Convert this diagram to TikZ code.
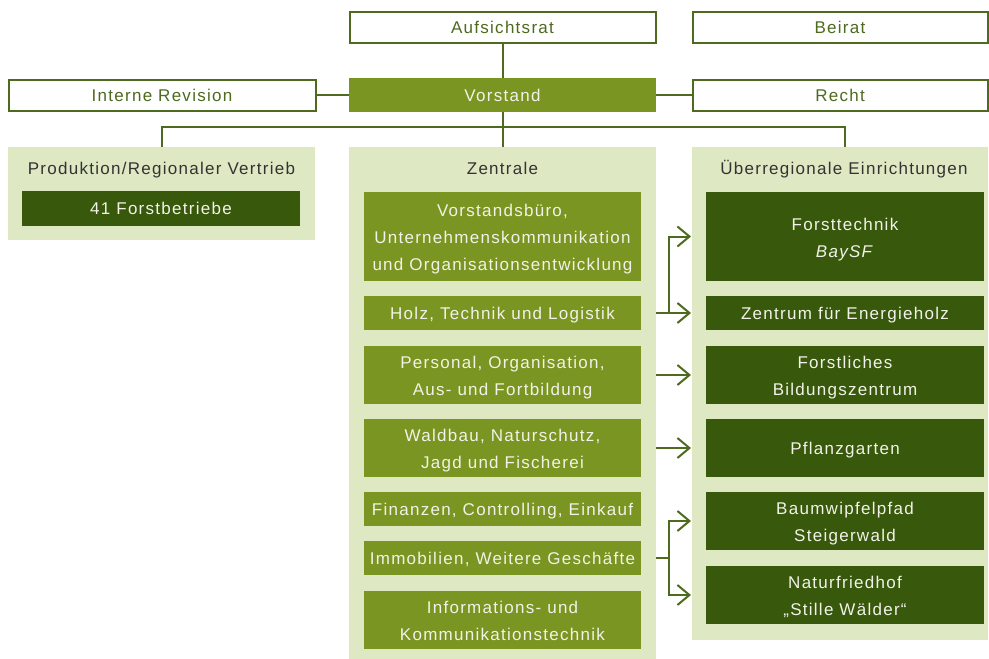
\documentclass[tikz,border=0pt]{standalone}
\usepackage{fontspec}
\setmainfont{Liberation Sans}[LetterSpace=7.5]
\usetikzlibrary{arrows.meta}
\definecolor{lineg}{HTML}{4E6A1F}
\definecolor{midg}{HTML}{7B9522}
\definecolor{darkg}{HTML}{38580C}
\definecolor{paleg}{HTML}{DEE9C3}
\definecolor{txtw}{HTML}{F2F2E8}
\definecolor{txtd}{HTML}{333333}
\newcommand\firstup{\rule{0pt}{18.5pt}}
\begin{document}
\begin{tikzpicture}[x=1pt,y=-1pt, font=\fontsize{17}{27}\selectfont,
 strut/.style={execute at begin node={\rule{0pt}{16.5pt}}, execute at end node={\rule[-4pt]{0pt}{0pt}}},
 box/.style={anchor=north west, inner sep=0, outer sep=0, align=center, strut},
 whitebox/.style={box, draw=lineg, line width=2pt, fill=white, text=lineg},
 midbox/.style={box, fill=midg, text=txtw},
 darkbox/.style={box, fill=darkg, text=txtw},
 panel/.style={anchor=north west, inner sep=0, outer sep=0, fill=paleg},
 ptitle/.style={text=txtd, inner sep=0, strut},
 conn/.style={draw=lineg, line width=2pt},
 arr/.style={conn, shorten >=15pt, -{Straight Barb[length=12pt,width=20pt,line width=2pt]}}]
\useasboundingbox (0,0) rectangle (989,659);
% top row
\node[whitebox, minimum width=306pt, minimum height=31pt] (auf) at (349.5,11.5) {Aufsichtsrat};
\node[whitebox, minimum width=295pt, minimum height=31pt] (bei) at (692.5,11.5) {Beirat};
\node[whitebox, minimum width=307pt, minimum height=31pt] (rev) at (8.5,79.5) {Interne Revision};
\node[whitebox, minimum width=295pt, minimum height=31pt] (recht) at (692.5,79.5) {Recht};
\node[midbox, minimum width=307pt, minimum height=34pt] (vor) at (349,78) {Vorstand};
% panels
\node[panel, minimum width=307pt, minimum height=93pt] (prod) at (8,147) {};
\node[panel, minimum width=307pt, minimum height=512pt] (zen) at (349,147) {};
\node[panel, minimum width=296pt, minimum height=493pt] (ueb) at (692,147) {};
\node[ptitle] (tprod) at (161.5,168) {Produktion/Regionaler Vertrieb};
\node[ptitle] (tzen) at (502.5,168) {Zentrale};
\node[ptitle] (tueb) at (844,168) {Überregionale Einrichtungen};
% produktion
\node[darkbox, minimum width=278pt, minimum height=35pt] (fb) at (22,191) {41 Forstbetriebe};
% zentrale
\node[midbox, minimum width=277pt, minimum height=89pt] (vb) at (364,192) {\firstup Vorstandsbüro,\\Unternehmenskommunikation\\und Organisationsentwicklung};
\node[midbox, minimum width=277pt, minimum height=34pt] (holz) at (364,296) {Holz, Technik und Logistik};
\node[midbox, minimum width=277pt, minimum height=58pt] (pers) at (364,346) {\firstup Personal, Organisation,\\Aus- und Fortbildung};
\node[midbox, minimum width=277pt, minimum height=58pt] (wald) at (364,419) {\firstup Waldbau, Naturschutz,\\Jagd und Fischerei};
\node[midbox, minimum width=277pt, minimum height=34pt] (fin) at (364,492) {Finanzen, Controlling, Einkauf};
\node[midbox, minimum width=277pt, minimum height=34pt] (immo) at (364,541) {Immobilien, Weitere Geschäfte};
\node[midbox, minimum width=277pt, minimum height=58pt] (info) at (364,591) {\firstup Informations- und\\Kommunikationstechnik};
% ueberregional
\node[darkbox, minimum width=278pt, minimum height=89pt] (ft) at (706,192) {\firstup Forsttechnik\\\textit{BaySF}};
\node[darkbox, minimum width=278pt, minimum height=34pt] (zfe) at (706,296) {Zentrum für Energieholz};
\node[darkbox, minimum width=278pt, minimum height=58pt] (fbz) at (706,346) {\firstup Forstliches\\Bildungszentrum};
\node[darkbox, minimum width=278pt, minimum height=58pt] (pfl) at (706,419) {Pflanzgarten};
\node[darkbox, minimum width=278pt, minimum height=58pt] (bwp) at (706,492) {\firstup Baumwipfelpfad\\Steigerwald};
\node[darkbox, minimum width=278pt, minimum height=58pt] (nf) at (706,566) {\firstup Naturfriedhof\\„Stille Wälder“};
% connectors
\draw[conn] (auf.south) -- (vor.north);
\draw[conn] (rev.east) -- (vor.west);
\draw[conn] (vor.east) -- (recht.west);
\draw[conn] (vor.south) -- (zen.north);
\draw[conn] (prod.north) -- ++(0,-20) -| ([xshift=5pt]ueb.north);
\coordinate (j) at (669,0);
\draw[conn] (holz.east -| zen.east) -- (holz.east -| j);
\draw[arr] (holz.east -| j) -- (zfe.west);
\draw[arr] (holz.east -| j) |- (ft.west);
\draw[arr] (pers.east -| zen.east) -- (fbz.west);
\draw[arr] (wald.east -| zen.east) -- (pfl.west);
\draw[conn] (immo.east -| zen.east) -- (immo.east -| j);
\draw[arr] (immo.east -| j) |- (bwp.west);
\draw[arr] (immo.east -| j) |- (nf.west);
\end{tikzpicture}
\end{document}
